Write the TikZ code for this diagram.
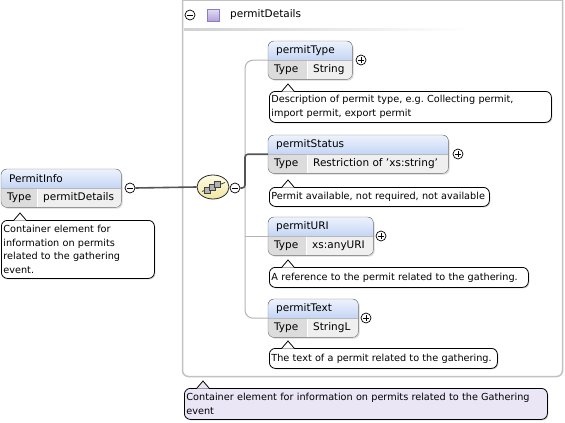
\documentclass[tikz,border=0pt]{standalone}
\usepackage{fontspec}
\setmainfont{DejaVu Sans}
\usetikzlibrary{calc,shadows,shapes.geometric}
\frenchspacing
\definecolor{hdtop}{HTML}{EEF3FC}
\definecolor{hdbot}{HTML}{C3D5F5}
\definecolor{typebg}{HTML}{DCDCDC}
\definecolor{valbg}{HTML}{EFEFEF}
\definecolor{boxline}{HTML}{707070}
\definecolor{treeline}{HTML}{B4B4B4}
\definecolor{activeline}{HTML}{555555}
\definecolor{contline}{HTML}{C2C2C2}
\definecolor{lav}{HTML}{EAE6F5}
\definecolor{seqtop}{HTML}{FFFDE6}
\definecolor{seqbot}{HTML}{F0E6A0}
\definecolor{sqline}{HTML}{8E7CC3}
\definecolor{sqtop}{HTML}{E4DDF3}
\definecolor{sqbot}{HTML}{B2A2DC}
\newcommand\sq{{\char39}}

\newcommand\xelem[7]{% name, x, y, w, typew, title, typevalue
  \node[elembox, minimum width=#4pt, anchor=north west] (#1) at (#2,#3) {};
  \begin{scope}
    \clip[rounded corners=6pt] (#1.north west) rectangle (#1.south east);
    \fill[top color=hdtop,bottom color=hdbot] (#1.north west) rectangle (#1.east);
    \fill[typebg] (#1.west) rectangle ($(#1.south west)+(#5,0)$);
    \fill[valbg] ($(#1.west)+(#5,0)$) rectangle (#1.south east);
  \end{scope}
  \draw[boxline, rounded corners=6pt] (#1.north west) rectangle (#1.south east);
  \draw[boxline!50] (#1.west) -- (#1.east);
  \draw[white] ($(#1.west)+(#5,0.5)$) -- ($(#1.south west)+(#5,-0.5)$);
  \node[lbl] (#1-n) at ($(#1.north west)+(8,10)$) {#6};
  \node[lbl] (#1-k) at ($(#1.north west)+(6,29)$) {Type};
  \node[lbl] (#1-v) at ($(#1.north west)+(#5+6,29)$) {#7};
}
\newcommand\xdoc[8]{% name, x, y, textwidth, height, apexx, fill, text
  \node[docnode, fill=#7, text width=#4pt, minimum height=#5pt] (#1) at (#2,#3) {#8};
  \fill[#7] (#6-6,#3+0.7) -- (#6,#3-7) -- (#6+6,#3+0.7) -- cycle;
  \draw[line width=0.8pt] (#6-6,#3) -- (#6,#3-7) -- (#6+6,#3);
}

\begin{document}
\begin{tikzpicture}[x=1pt,y=-1pt,
  lbl/.style={font=\fontsize{10.5}{13}\selectfont, inner sep=0pt, anchor=west},
  elembox/.style={rectangle, rounded corners=6pt, minimum height=38pt, inner sep=0pt, fill=white,
    drop shadow={shadow xshift=1.5pt, shadow yshift=-1.5pt, opacity=0.3}},
  ctrlminus/.style={circle, draw=black, line width=0.7pt, fill=white, minimum size=10pt, inner sep=0pt,
    path picture={\draw[line width=0.7pt] ([xshift=-2.6pt]path picture bounding box.center) -- ([xshift=2.6pt]path picture bounding box.center);}},
  ctrlplus/.style={circle, draw=black, line width=0.7pt, fill=white, minimum size=10pt, inner sep=0pt,
    path picture={\draw[line width=0.7pt] ([xshift=-2.6pt]path picture bounding box.center) -- ([xshift=2.6pt]path picture bounding box.center);
      \draw[line width=0.7pt] ([yshift=-2.6pt]path picture bounding box.center) -- ([yshift=2.6pt]path picture bounding box.center);}},
  docnode/.style={draw=black, line width=0.8pt, rounded corners=6pt, inner xsep=2pt, inner ysep=1pt,
    align=left, anchor=north west, font=\fontsize{9.7}{13.5}\selectfont,
    drop shadow={shadow xshift=1pt, shadow yshift=-1pt, opacity=0.35}},
  seq/.style={ellipse, draw=black!85, line width=0.8pt, minimum width=32pt, minimum height=24pt,
    inner sep=0pt, top color=seqtop, bottom color=seqbot},
  sqbox/.style={rectangle, draw=sqline, line width=0.7pt, minimum size=12pt, inner sep=0pt,
    top color=sqtop, bottom color=sqbot},
  mainline/.style={draw=activeline, line width=1.6pt},
  tree/.style={draw=treeline, line width=1pt, rounded corners=8pt},
  activetree/.style={draw=activeline, line width=1.6pt, rounded corners=3pt}
]
\useasboundingbox (0,0) rectangle (565,423);
\fill[white] (0,0) rectangle (565,423);

% container
\draw[contline, line width=1.5pt, rounded corners=6pt] (182.5,-20) rectangle (562.5,376.5);
\draw[contline, line width=1.5pt] (182.5,0.5) -- (562.5,0.5);
\fill[left color=black!18, right color=white] (184,28) rectangle (470,30.5);
\node[ctrlminus] (hd-c) at (190,15) {};
\node[sqbox] (hd-sq) at (213,15) {};
\node[lbl] (hd-t) at (230,15) {permitDetails};

% root element
\xelem{pi}{1}{169}{120}{36}{PermitInfo}{permitDetails}
\node[ctrlminus] (pi-c) at (130,188) {};
\xdoc{pi-d}{1}{220}{149}{58}{20}{white}{\mbox{Container element for}\\\mbox{information on permits}\\\mbox{related to the gathering}\\\mbox{event.}}

% sequence
\node[seq] (seq) at (213,187) {};
\draw[black!75, line width=0.8pt] (202,191.5) -- (225,182.5);
\foreach \cx/\cy in {207.5/190, 212.5/187, 217.5/184}
  \draw[black!75, fill=black!30, line width=0.6pt] (\cx-3,\cy-3) rectangle (\cx+3,\cy+3);
\node[ctrlminus] (seq-c) at (235,188) {};
\draw[mainline] (pi-c.east) -- (seq.west);

% children
\xelem{pt}{268}{41}{84}{39}{permitType}{String}
\xelem{ps}{268}{135}{180}{39}{permitStatus}{Restriction of \sq xs:string\sq}
\xelem{pu}{268}{217}{105}{38}{permitURI}{xs:anyURI}
\xelem{ptx}{268}{299}{90}{39}{permitText}{StringL}

\node[ctrlplus] (pt-c) at (361,60) {};
\node[ctrlplus] (ps-c) at (458,154) {};
\node[ctrlplus] (pu-c) at (381,236) {};
\node[ctrlplus] (ptx-c) at (366,318) {};

% tree connectors
\coordinate (trunk) at (245,0);
\draw[tree] (pt.west) -- (pt.west -| trunk) -- (ptx.west -| trunk) -- (ptx.west);
\draw[treeline, line width=1pt] (pu.west -| trunk) -- (pu.west);
\draw[activetree] (seq-c.east) -- (seq-c.east -| trunk) -- (ps.west -| trunk) -- (ps.west);

% documentation
\xdoc{pt-d}{269}{91}{278}{31}{288}{white}{\mbox{Description of permit type, e.g. Collecting permit,}\\\mbox{import permit, export permit}}
\xdoc{ps-d}{269}{187}{216}{19}{288}{white}{\mbox{Permit available, not required, not available}}
\xdoc{pu-d}{269}{267}{255}{20}{288}{white}{\mbox{A reference to the permit related to the gathering.}}
\xdoc{ptx-d}{269}{348}{224}{20}{288}{white}{\mbox{The text of a permit related to the gathering.}}
\xdoc{main-d}{184}{388}{359}{31}{203}{lav}{\mbox{Container element for information on permits related to the Gathering}\\\mbox{event}}
\end{tikzpicture}
\end{document}
